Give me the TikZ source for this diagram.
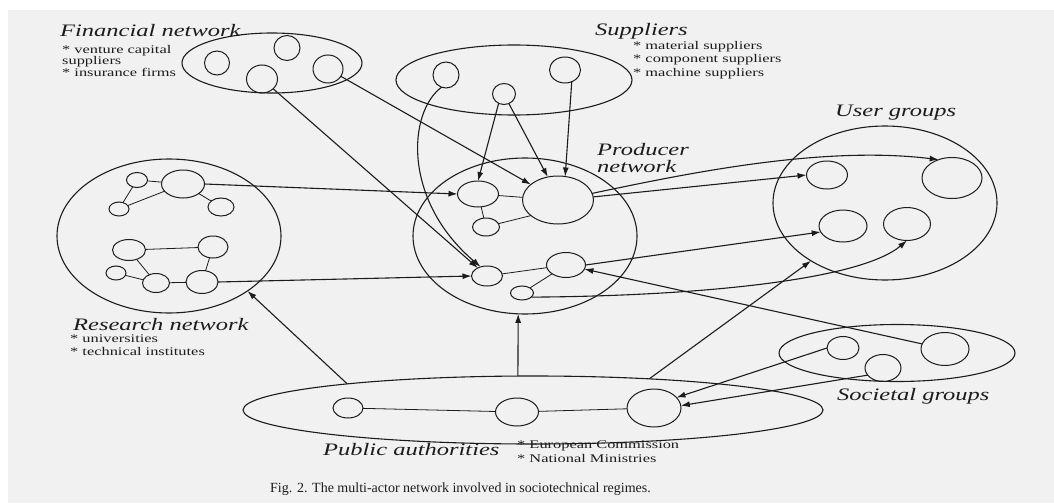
\documentclass[tikz,border=0pt]{standalone}
\usepackage{fontspec}
\usetikzlibrary{shapes.geometric,arrows.meta}
\newfontfamily\lblfont{Liberation Serif}[FakeStretch=1.4]
\newfontfamily\capfont{Liberation Serif}
\definecolor{paper}{RGB}{241,241,241}
\definecolor{ink}{RGB}{28,28,28}

\begin{document}
\begin{tikzpicture}[x=1pt,y=-1pt,
  region/.style 2 args={ellipse, draw=ink, line width=1.1pt, inner sep=0pt, outer sep=0pt,
    minimum width=#1pt, minimum height=#2pt},
  actor/.style 2 args={ellipse, draw=ink, line width=1pt, inner sep=0pt, outer sep=0pt,
    minimum width=#1pt, minimum height=#2pt},
  flow/.style={draw=ink, line width=1.1pt, -{Latex[length=9pt,width=6pt]}},
  link/.style={draw=ink, line width=0.8pt},
  heading/.style={anchor=base west, inner sep=0pt, text=ink,
    font=\lblfont\itshape\fontsize{17.5}{20}\selectfont},
  note/.style={anchor=base west, inner sep=0pt, text=ink,
    font=\lblfont\fontsize{11.7}{13}\selectfont},
  caption/.style={anchor=base west, inner sep=0pt, text=ink,
    font=\capfont\fontsize{14}{16}\selectfont}]

% page
\useasboundingbox (0,0) rectangle (1054,503);
\fill[white] (0,0) rectangle (1054,503);
\fill[paper] (8,10) rectangle (1054,503);

% actor groups
\node[region={180}{60}]  (fin)   at (272,63)  {};
\node[region={236}{70}]  (sup)   at (514,80)  {};
\node[region={224}{156}] (prod)  at (525,236) {};
\node[region={224}{154}] (users) at (885,203) {};
\node[region={224}{154}] (res)   at (169,236) {};
\node[region={236}{57}]  (soc)   at (897,353) {};
\node[region={580}{68}]  (pub)   at (533,410) {};

% financial actors
\node[actor={25}{24}] (c1) at (217,63) {};
\node[actor={26}{25}] (c2) at (287,48) {};
\node[actor={31}{28}] (c3) at (262,79) {};
\node[actor={30}{28}] (c4) at (328,69) {};

% suppliers
\node[actor={26}{26}] (s1) at (446,75) {};
\node[actor={23}{21}] (s2) at (504,94) {};
\node[actor={31}{26}] (s3) at (565,70) {};

% producers
\node[actor={41}{26}] (p1) at (478,194) {};
\node[actor={71}{48}] (p2) at (558,200) {};
\node[actor={27}{18}] (p3) at (486,227) {};
\node[actor={31}{20}] (p4) at (487,276) {};
\node[actor={39}{25}] (p5) at (566,265) {};
\node[actor={23}{14}] (p6) at (522,293) {};
\draw[link] (p1) -- (p2);
\draw[link] (p1) -- (p3);
\draw[link] (p3.15) -- (p2.210);
\draw[link] (p4) -- (p5);
\draw[link] (p6) -- (p5);

% users
\node[actor={41}{28}] (u1) at (827,175) {};
\node[actor={60}{41}] (u2) at (952,178) {};
\node[actor={48}{32}] (u3) at (843,226) {};
\node[actor={47}{33}] (u4) at (907,224) {};

% research actors
\node[actor={21}{15}] (r1) at (137,180) {};
\node[actor={43}{28}] (r2) at (183,184) {};
\node[actor={20}{14}] (r3) at (119,209) {};
\node[actor={26}{18}] (r4) at (221,207) {};
\node[actor={33}{21}] (r5) at (129,250) {};
\node[actor={30}{22}] (r6) at (213,247) {};
\node[actor={20}{14}] (r7) at (116,273) {};
\node[actor={27}{19}] (r8) at (156,283) {};
\node[actor={32}{23}] (r9) at (202,282) {};
\draw[link] (r1) -- (r2);
\draw[link] (r1) -- (r3);
\draw[link] (r3) -- (r2);
\draw[link] (r2) -- (r4);
\draw[link] (r5) -- (r6);
\draw[link] (r5) -- (r8);
\draw[link] (r7) -- (r8);
\draw[link] (r8) -- (r9);
\draw[link] (r9) -- (r6);

% societal groups
\node[actor={32}{23}] (g1) at (843,348) {};
\node[actor={36}{27}] (g2) at (883,368) {};
\node[actor={48}{33}] (g3) at (945,349) {};

% public authorities
\node[actor={30}{20}] (a1) at (348,408) {};
\node[actor={43}{28}] (a2) at (517,412) {};
\node[actor={54}{38}] (a3) at (654,408) {};
\draw[link] (a1) -- (a2);
\draw[link] (a2) -- (a3);

% flows between groups
\draw[flow] (c3) -- (p4);
\draw[flow] (c4) -- (p2);
\draw[flow] (s1.250) .. controls (408,112) and (402,200) .. (p4.125);
\draw[flow] (s2.240) -- (p1.north);
\draw[flow] (s2.297) -- (p2.114);
\draw[flow] (s3.300) -- (p2.73);
\draw[flow] (r2.east) -- (p1.west);
\draw[flow] (r9.east) -- (p4.west);
\draw[flow] (p2.11) .. controls (680,175) and (820,145) .. (u2.126);
\draw[flow] (p2.5) -- (u1.west);
\draw[flow] (p5.east) -- (u3.195);
\draw[flow] (p6.336) .. controls (700,296) and (860,280) .. (u4.south);
\draw[flow] (g3) -- (p5);
\draw[flow] (g1.west) -- (a3.25);
\draw[flow] (g2.205) -- (a3.5);
\draw[flow] (pub.15) -- (users.218);
\draw[flow] (pub.114) -- (prod.265);
\draw[flow] (pub.172) -- (res.325);

% labels
\node[heading] (tfin) at (60,37) {Financial network};
\node[note] (tfin1) at (62,53) {* venture capital};
\node[note] (tfin2) at (62,65) {suppliers};
\node[note] (tfin3) at (62,77) {* insurance firms};

\node[heading] (tsup) at (595,36) {Suppliers};
\node[note] (tsup1) at (633,50) {* material suppliers};
\node[note] (tsup2) at (633,63) {* component suppliers};
\node[note] (tsup3) at (633,76) {* machine suppliers};

\node[heading] (tprod1) at (597,155) {Producer};
\node[heading] (tprod2) at (597,172) {network};

\node[heading] (tusers) at (835,116) {User groups};

\node[heading] (tres) at (73,330) {Research network};
\node[note] (tres1) at (70,342) {* universities};
\node[note] (tres2) at (70,355) {* technical institutes};

\node[heading] (tsoc) at (837,400) {Societal groups};

\node[heading] (tpub) at (323,455) {Public authorities};
\node[note] (tpub1) at (517,448) {* European Commission};
\node[note] (tpub2) at (517,462) {* National Ministries};

\node[caption] (cap) at (270,492) {Fig. 2. The multi-actor network involved in sociotechnical regimes.};
\end{tikzpicture}
\end{document}
